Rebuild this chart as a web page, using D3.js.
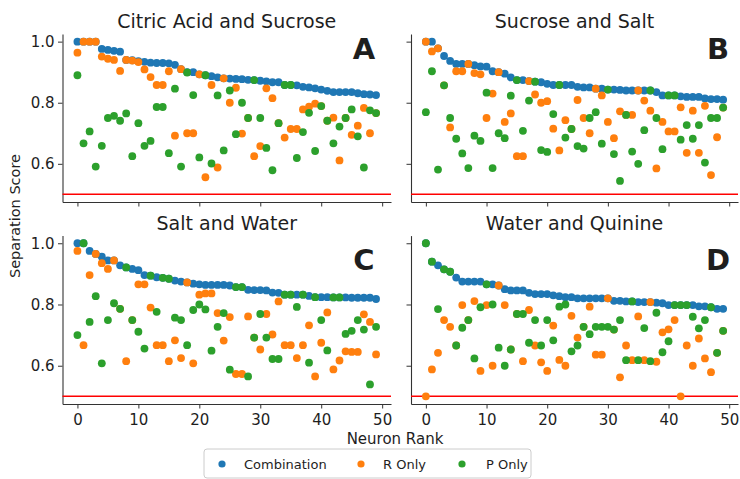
<!DOCTYPE html>
<html>
<head>
<meta charset="utf-8">
<script src="https://cdn.jsdelivr.net/npm/d3@7"></script>
<style>
  body { margin: 0; background: #fff; }
  svg { display: block; }
  text { font-family: "DejaVu Sans", sans-serif; fill: #1e1e1e; }
</style>
</head>
<body>
<svg id="chart" width="740" height="479"></svg>
<script>
// ---- data ----
const ranks = d3.range(50);
const xTicks = [0, 10, 20, 30, 40, 50];
const yTicks = [0.6, 0.8, 1.0];
const chanceLevel = 0.5;
const seriesNames = ["Combination", "R Only", "P Only"];
const seriesColors = ["#1f77b4", "#ff7f0e", "#2ca02c"];
const panelTitles = ["Citric Acid and Sucrose", "Sucrose and Salt", "Salt and Water", "Water and Quinine"];
const panelLetters = ["A", "B", "C", "D"];

// Citric Acid and Sucrose
const citricSucroseCombination = [1.0,1.0,1.0,1.0,0.976,0.973,0.970,0.967,0.940,0.939,0.936,0.934,0.931,0.930,0.930,0.929,0.924,0.910,0.900,0.900,0.893,0.890,0.887,0.883,0.880,0.879,0.878,0.877,0.875,0.874,0.872,0.870,0.867,0.867,0.858,0.858,0.857,0.852,0.850,0.847,0.843,0.839,0.835,0.835,0.835,0.835,0.831,0.828,0.827,0.825];
const citricSucroseR = [0.964,1.0,1.0,1.0,0.951,0.944,0.940,0.904,0.940,0.938,0.933,0.909,0.884,0.858,0.858,0.903,0.692,0.910,0.700,0.700,0.893,0.556,0.858,0.588,0.880,0.800,0.849,0.699,0.750,0.625,0.658,0.847,0.815,0.733,0.686,0.714,0.714,0.778,0.787,0.797,0.789,0.741,0.751,0.611,0.750,0.695,0.725,0.783,0.700,0.766];
const citricSucroseP = [0.890,0.667,0.706,0.591,0.659,0.750,0.757,0.741,0.765,0.625,0.733,0.659,0.675,0.786,0.786,0.635,0.846,0.591,0.899,0.825,0.621,0.890,0.601,0.824,0.644,0.840,0.697,0.800,0.750,0.874,0.750,0.652,0.579,0.733,0.858,0.858,0.619,0.704,0.767,0.642,0.789,0.741,0.667,0.722,0.750,0.778,0.690,0.588,0.775,0.766];

// Sucrose and Salt
const sucroseSaltCombination = [1.0,1.0,0.978,0.953,0.937,0.927,0.927,0.927,0.923,0.919,0.918,0.903,0.900,0.895,0.883,0.874,0.874,0.871,0.869,0.867,0.862,0.858,0.858,0.858,0.858,0.852,0.850,0.850,0.846,0.846,0.843,0.843,0.842,0.840,0.840,0.840,0.840,0.840,0.835,0.824,0.824,0.824,0.821,0.819,0.819,0.819,0.814,0.812,0.812,0.810];
const sucroseSaltR = [1.0,0.968,0.978,0.857,0.719,0.903,0.903,0.927,0.897,0.893,0.750,0.830,0.900,0.737,0.765,0.625,0.625,0.871,0.827,0.800,0.805,0.715,0.644,0.743,0.714,0.809,0.750,0.700,0.846,0.824,0.737,0.684,0.772,0.760,0.760,0.840,0.807,0.774,0.585,0.737,0.706,0.706,0.785,0.636,0.774,0.636,0.790,0.563,0.687,0.784];
const sucroseSaltP = [0.769,0.903,0.581,0.857,0.750,0.682,0.634,0.586,0.692,0.675,0.833,0.586,0.700,0.684,0.823,0.874,0.708,0.807,0.869,0.645,0.639,0.763,0.858,0.686,0.714,0.658,0.650,0.750,0.769,0.666,0.843,0.632,0.544,0.760,0.640,0.600,0.710,0.840,0.750,0.648,0.824,0.824,0.679,0.727,0.682,0.727,0.604,0.750,0.750,0.784];

// Salt and Water
const saltWaterCombination = [1.0,1.0,0.975,0.965,0.956,0.944,0.944,0.928,0.921,0.916,0.912,0.896,0.894,0.889,0.887,0.884,0.878,0.875,0.872,0.868,0.866,0.864,0.864,0.864,0.864,0.862,0.857,0.857,0.848,0.847,0.847,0.846,0.839,0.838,0.832,0.832,0.832,0.832,0.828,0.824,0.824,0.824,0.823,0.823,0.823,0.822,0.822,0.822,0.822,0.818];
const saltWaterR = [0.975,0.667,0.896,0.965,0.935,0.916,0.944,0.786,0.615,0.749,0.866,0.866,0.790,0.667,0.667,0.615,0.683,0.625,0.872,0.608,0.832,0.836,0.836,0.772,0.682,0.759,0.573,0.573,0.761,0.692,0.653,0.769,0.702,0.810,0.667,0.667,0.625,0.667,0.732,0.565,0.675,0.774,0.588,0.617,0.647,0.645,0.645,0.768,0.743,0.637];
const saltWaterP = [0.700,1.0,0.743,0.827,0.608,0.749,0.804,0.786,0.921,0.749,0.711,0.656,0.894,0.776,0.887,0.884,0.757,0.749,0.667,0.782,0.800,0.784,0.649,0.727,0.772,0.587,0.857,0.857,0.565,0.692,0.769,0.692,0.622,0.622,0.832,0.832,0.792,0.832,0.610,0.824,0.749,0.650,0.823,0.823,0.704,0.714,0.749,0.718,0.539,0.727];

// Water and Quinine
const waterQuinineCombination = [1.0,0.940,0.928,0.915,0.907,0.888,0.875,0.875,0.875,0.875,0.866,0.866,0.862,0.850,0.846,0.846,0.846,0.838,0.834,0.834,0.834,0.830,0.827,0.824,0.824,0.820,0.820,0.820,0.820,0.820,0.820,0.812,0.812,0.810,0.810,0.808,0.808,0.808,0.806,0.804,0.798,0.798,0.798,0.798,0.798,0.794,0.794,0.791,0.786,0.786];
const waterQuinineR = [0.500,0.588,0.642,0.749,0.727,0.666,0.798,0.749,0.811,0.583,0.798,0.600,0.862,0.798,0.653,0.769,0.615,0.782,0.666,0.611,0.583,0.731,0.619,0.600,0.763,0.692,0.727,0.793,0.636,0.636,0.820,0.718,0.562,0.666,0.618,0.761,0.618,0.808,0.613,0.709,0.719,0.749,0.500,0.666,0.600,0.689,0.624,0.579,0.642,0.714];
const waterQuinineP = [1.0,0.940,0.785,0.915,0.907,0.666,0.724,0.749,0.624,0.791,0.866,0.800,0.659,0.600,0.653,0.769,0.769,0.675,0.749,0.666,0.749,0.683,0.793,0.800,0.647,0.666,0.727,0.703,0.727,0.727,0.727,0.718,0.749,0.618,0.810,0.618,0.723,0.615,0.773,0.644,0.680,0.798,0.798,0.798,0.760,0.722,0.749,0.791,0.642,0.714];

const panelSeries = [
  [citricSucroseCombination, citricSucroseR, citricSucroseP],
  [sucroseSaltCombination, sucroseSaltR, sucroseSaltP],
  [saltWaterCombination, saltWaterR, saltWaterP],
  [waterQuinineCombination, waterQuinineR, waterQuinineP]
];

// ---- layout ----
const svg = d3.select("#chart");
const colX = [[62.5, 391], [411, 738]];
const rowY = [[34, 202], [235.6, 404]];
const titleBaseline = [28, 230];
const letterBaseline = [59, 270];
const letterX = [364, 718];
const xDomain = [-2.45, 51.45];
const yDomain = [0.475, 1.025];
const tickFont = "15px";
const dotRadius = 3.9;

panelSeries.forEach((series, i) => {
  const col = i % 2, row = Math.floor(i / 2);
  const [x0, x1] = colX[col];
  const [y0, y1] = rowY[row];
  const x = d3.scaleLinear().domain(xDomain).range([x0, x1]);
  const y = d3.scaleLinear().domain(yDomain).range([y1, y0]);
  const g = svg.append("g");

  // axes: left and bottom spines only
  const xAxis = d3.axisBottom(x).tickValues(xTicks).tickSize(4.5).tickSizeOuter(0).tickPadding(5.5)
    .tickFormat(row === 1 ? d3.format("d") : () => "");
  const yAxis = d3.axisLeft(y).tickValues(yTicks).tickSize(4.5).tickSizeOuter(0).tickPadding(3.5)
    .tickFormat(col === 0 ? d3.format(".1f") : () => "");

  const gx = g.append("g").attr("transform", `translate(0,${y1})`).call(xAxis);
  const gy = g.append("g").attr("transform", `translate(${x0},0)`).call(yAxis);
  [gx, gy].forEach(a => {
    a.selectAll("path.domain").attr("stroke", "#333").attr("stroke-width", 1.1);
    a.selectAll(".tick line").attr("stroke", "#333").attr("stroke-width", 1);
    a.selectAll(".tick text").attr("font-family", "DejaVu Sans, sans-serif")
      .attr("font-size", tickFont).attr("fill", "#1e1e1e");
  });

  // chance level
  g.append("line")
    .attr("x1", x0).attr("x2", x1)
    .attr("y1", y(chanceLevel)).attr("y2", y(chanceLevel))
    .attr("stroke", "#ff0000").attr("stroke-width", 1.5);

  // points: Combination, then R Only, then P Only on top
  series.forEach((vals, s) => {
    g.append("g").selectAll("circle")
      .data(ranks.map(r => ({ r, v: vals[r] })))
      .join("circle")
      .attr("cx", d => x(d.r))
      .attr("cy", d => y(d.v))
      .attr("r", dotRadius)
      .attr("fill", seriesColors[s]);
  });

  // title and panel letter
  svg.append("text")
    .attr("x", (x0 + x1) / 2).attr("y", titleBaseline[row])
    .attr("text-anchor", "middle").attr("font-size", "19px")
    .text(panelTitles[i]);
  svg.append("text")
    .attr("x", letterX[col]).attr("y", letterBaseline[row])
    .attr("text-anchor", "middle").attr("font-size", "29px").attr("font-weight", "bold")
    .attr("fill", "#111")
    .text(panelLetters[i]);
});

// shared axis labels
svg.append("text")
  .attr("transform", "translate(20,216) rotate(-90)")
  .attr("text-anchor", "middle").attr("font-size", "14.5px")
  .text("Separation Score");
svg.append("text")
  .attr("x", 395).attr("y", 444)
  .attr("text-anchor", "middle").attr("font-size", "15px")
  .text("Neuron Rank");

// legend
const legend = svg.append("g");
legend.append("rect")
  .attr("x", 204).attr("y", 449).attr("width", 327).attr("height", 29).attr("rx", 3)
  .attr("fill", "#fff").attr("stroke", "#cccccc").attr("stroke-width", 1);
const legendMarkX = [222, 361, 462];
const legendTextX = [244, 383, 486];
seriesNames.forEach((name, s) => {
  legend.append("circle")
    .attr("cx", legendMarkX[s]).attr("cy", 464).attr("r", 3.6)
    .attr("fill", seriesColors[s]);
  legend.append("text")
    .attr("x", legendTextX[s]).attr("y", 468.5)
    .attr("font-size", "13px")
    .text(name);
});
</script>
</body>
</html>
